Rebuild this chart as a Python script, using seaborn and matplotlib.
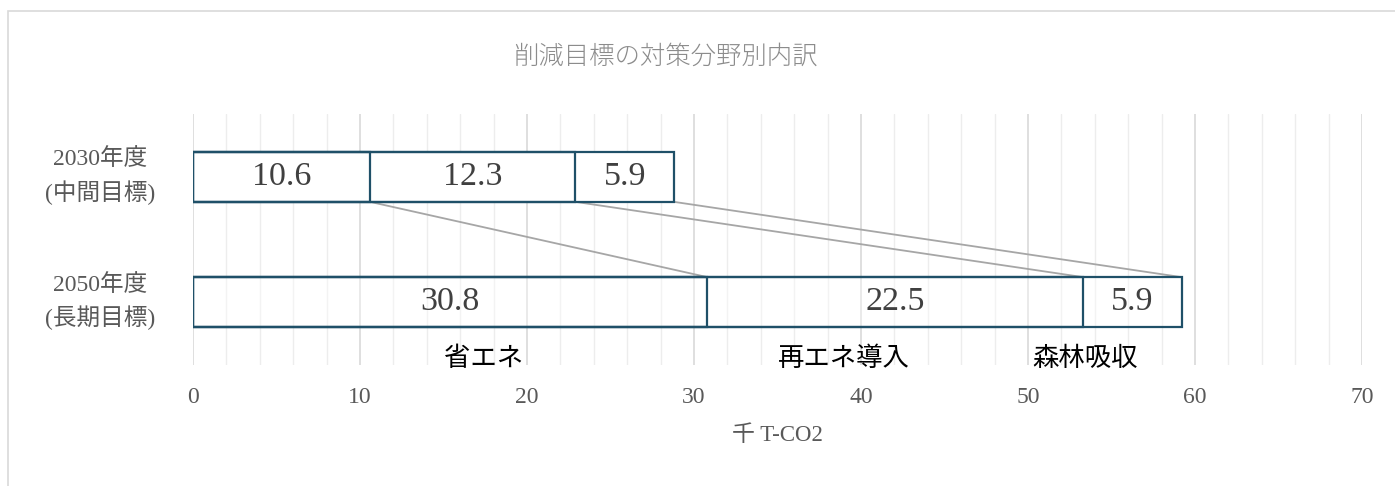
import matplotlib
matplotlib.use("Agg")
import matplotlib.pyplot as plt
from matplotlib.patches import Rectangle
from matplotlib.ticker import MultipleLocator
import numpy as np
import pandas as pd
import seaborn as sns

# Reduction targets by policy area (thousand t-CO2)
periods = ["2030年度\n(中間目標)", "2050年度\n(長期目標)"]
areas = ["省エネ", "再エネ導入", "森林吸収"]
energy_saving = [10.6, 30.8]
renewables = [12.3, 22.5]
forest_sink = [5.9, 5.9]
area_label_x = [17.4, 39.0, 53.4]
x_ticks = [0, 10, 20, 30, 40, 50, 60, 70]

title = "削減目標の対策分野別内訳"
x_label = "千 T-CO2"

sns.set_theme(style="white")
plt.rcParams["font.family"] = ["Liberation Serif", "Noto Sans CJK JP"]

values = np.array([energy_saving, renewables, forest_sink])  # (area, period)
cum = values.cumsum(axis=0)

fig = plt.figure(figsize=(13.95, 4.86), dpi=100)
ax = fig.add_axes([193 / 1395, 1 - 365 / 486, (1362 - 193) / 1395, (365 - 114) / 486])

edge = "#1F5068"
# Draw cumulative layers from the outermost inwards so each divider shows
for i in range(len(areas) - 1, -1, -1):
    df = pd.DataFrame({"period": periods, "total": cum[i]})
    sns.barplot(data=df, x="total", y="period", orient="h", ax=ax,
                width=0.4, color="white", edgecolor=edge, linewidth=1.6,
                zorder=3)

# Only the outermost layer keeps a fill; 2050 bar is see-through
n = len(periods)
for k, patch in enumerate(ax.patches):
    layer, row = divmod(k, n)
    if layer == 0:
        patch.set_facecolor((1, 1, 1, 1.0) if row == 0 else (1, 1, 1, 0.35))
    else:
        patch.set_facecolor("none")

# Value labels centred in each segment
for i in range(len(areas)):
    for r in range(n):
        ax.text(cum[i, r] - values[i, r] / 2, r, f"{values[i, r]:.1f}",
                ha="center", va="center", fontsize=24.5, color="#404040",
                family="Liberation Serif", zorder=5)

# Connector lines between segment boundaries of the two bars
for i in range(len(areas)):
    ax.plot([cum[i, 0], cum[i, 1]], [0.2, 0.8], color="#A6A6A6", lw=1.3,
            zorder=2, solid_capstyle="butt")

# Policy area names under the 2050 bar
for name, xp in zip(areas, area_label_x):
    ax.text(xp, 1.45, name, ha="center", va="center", fontsize=19,
            color="black", family="Noto Sans CJK JP", zorder=5)

ax.set_xlim(0, 70)
ax.set_ylim(1.5, -0.5)
ax.set_xticks(x_ticks)
ax.set_xticklabels([str(t) for t in x_ticks])
ax.xaxis.set_minor_locator(MultipleLocator(2))
ax.grid(axis="x", which="major", color="#D9D9D9", lw=1.2, zorder=0)
ax.grid(axis="x", which="minor", color="#EDEDED", lw=1.0, zorder=0)
ax.set_axisbelow(True)
for s in ax.spines.values():
    s.set_visible(False)

ax.tick_params(axis="x", which="both", length=0, pad=16, labelsize=17,
               labelcolor="#595959")
ax.tick_params(axis="y", length=0, pad=27, labelsize=17, labelcolor="#595959")
for lbl in ax.get_yticklabels():
    lbl.set_multialignment("center")
    lbl.set_linespacing(1.5)
    lbl.set_verticalalignment("center")

ax.set_ylabel("")
ax.set_xlabel(x_label, fontsize=16.5, color="#595959", labelpad=12)

fig.text(665 / 1395, 1 - 56 / 486, title, ha="center", va="center",
         fontsize=18.3, color="#8C8C8C", family="Noto Sans CJK JP",
         fontweight="light")

# Chart frame
fig.patches.append(Rectangle((8 / 1395, -0.2), 1.2, 1 - 11 / 486 + 0.2,
                             transform=fig.transFigure, fill=False,
                             edgecolor="#D9D9D9", lw=1.2))

fig.savefig("out.png", dpi=100, facecolor="white")
